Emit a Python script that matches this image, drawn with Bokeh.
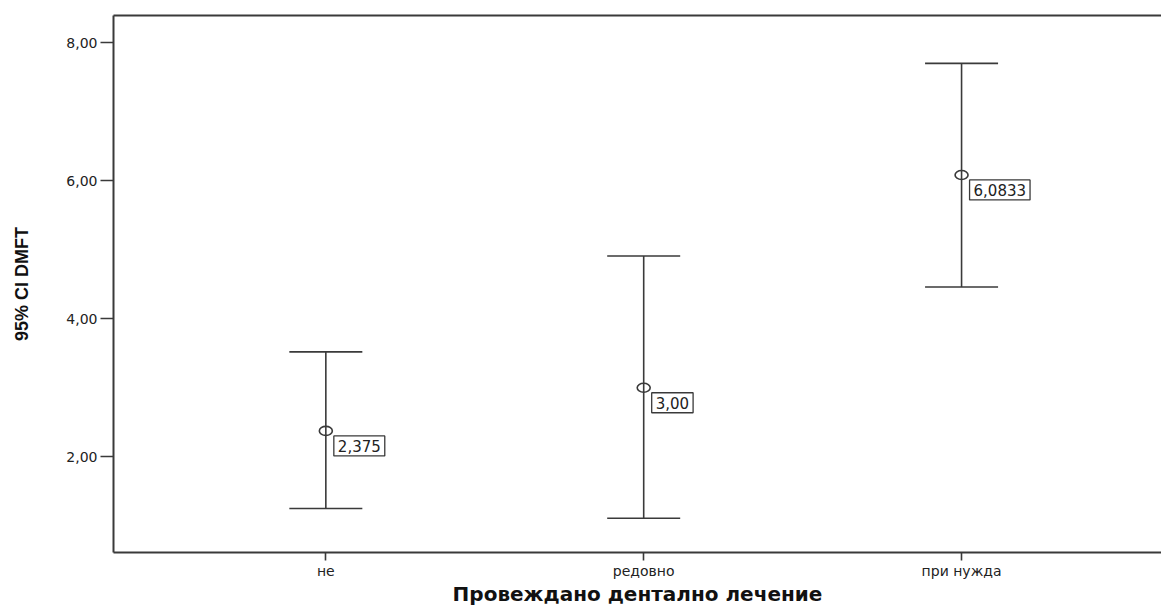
from bokeh.plotting import figure
from bokeh.models import (ColumnDataSource, FixedTicker, Range1d, Whisker,
                          TeeHead, LinearAxis)
from bokeh.core.properties import value
from bokeh.embed import file_html
from bokeh.resources import INLINE

# Mean DMFT with 95% confidence limits by dental treatment group
groups = ["не", "редовно", "при нужда"]
means = [2.375, 3.00, 6.0833]
ci_lower = [1.25, 1.11, 4.46]
ci_upper = [3.52, 4.91, 7.70]
mean_labels = ["2,375", "3,00", "6,0833"]
y_ticks = [2, 4, 6, 8]
y_tick_labels = ["2,00", "4,00", "6,00", "8,00"]

positions = list(range(1, len(groups) + 1))
src = ColumnDataSource(dict(x=positions, mean=means, lower=ci_lower,
                            upper=ci_upper, label=mean_labels))

LINE = "#3a3a3a"
TEXT = "#222222"

p = figure(width=1161, height=608, output_backend="svg", toolbar_location=None,
           x_range=Range1d(0.332, 3.629), y_range=Range1d(0.613, 8.394),
           min_border_left=113, min_border_right=0, min_border_top=15,
           min_border_bottom=55)
p.background_fill_color = "white"
p.border_fill_color = "white"
p.outline_line_color = None
p.xgrid.visible = False
p.ygrid.visible = False

# Confidence interval bars with flat caps
cap = TeeHead(size=73, line_color=LINE, line_width=1.6)
cap2 = TeeHead(size=73, line_color=LINE, line_width=1.6)
p.add_layout(Whisker(source=src, base="x", lower="lower", upper="upper",
                     line_color=LINE, line_width=1.6,
                     upper_head=cap, lower_head=cap2))

# Mean markers
p.ellipse(x="x", y="mean", width=13, height=9, width_units="screen",
          height_units="screen", source=src, fill_color="white",
          fill_alpha=0.0, line_color=LINE, line_width=1.6)

# Boxed mean values
p.text(x="x", y="mean", text="label", source=src, x_offset=8, y_offset=5,
       anchor="top_left", text_font=value("DejaVu Sans"),
       text_font_size="15px", text_color=TEXT, padding=4,
       border_line_color=LINE, border_line_width=1.3,
       background_fill_color="white")

# Axes
xa = p.xaxis[0]
xa.ticker = FixedTicker(ticks=positions)
xa.major_label_overrides = {pos: g for pos, g in zip(positions, groups)}
xa.axis_label = "Провеждано дентално лечение"

ya = p.yaxis[0]
ya.ticker = FixedTicker(ticks=y_ticks)
ya.major_label_overrides = {t: s for t, s in zip(y_ticks, y_tick_labels)}
ya.axis_label = "95% CI DMFT"

for ax in (xa, ya):
    ax.axis_line_color = LINE
    ax.axis_line_width = 2
    ax.major_tick_line_color = LINE
    ax.major_tick_line_width = 1.6
    ax.major_tick_in = 0
    ax.minor_tick_line_color = None
    ax.major_label_text_font = "DejaVu Sans"
    ax.major_label_text_font_size = "14px"
    ax.major_label_text_color = TEXT
    ax.axis_label_text_color = "#111111"
    ax.axis_label_text_font_style = "bold"

xa.major_tick_out = 8
xa.major_label_standoff = 2
xa.axis_label_text_font = "DejaVu Sans"
xa.axis_label_text_font_size = "20px"
xa.axis_label_standoff = 0

ya.major_tick_out = 13
ya.major_label_standoff = 3
ya.axis_label_text_font = "Liberation Sans"
ya.axis_label_text_font_size = "18px"
ya.axis_label_standoff = 31

# Top frame line
top = LinearAxis(ticker=FixedTicker(ticks=[]), axis_line_color=LINE,
                 axis_line_width=2, major_tick_line_color=None,
                 minor_tick_line_color=None, major_label_text_font_size="0px")
p.add_layout(top, "above")

open("out.html", "w").write(file_html(p, INLINE))
